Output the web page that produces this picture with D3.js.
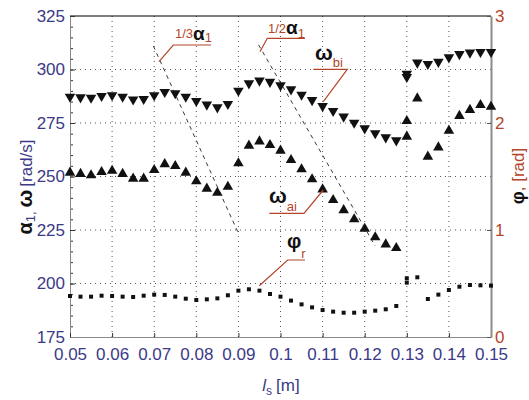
<!DOCTYPE html>
<html>
<head>
<meta charset="utf-8">
<script src="https://cdn.jsdelivr.net/npm/d3@7"></script>
<style>
  body { margin: 0; background: #fff; }
  text { font-family: "Liberation Sans", Arial, Helvetica, sans-serif; }
</style>
</head>
<body>
<svg id="chart" width="529" height="400"></svg>
<script>
// shaft length l_s [m]; 0.13 appears twice (two runs at the jump)
const ls = [0.05, 0.0525, 0.055, 0.0575, 0.06, 0.0625, 0.065, 0.0675, 0.07, 0.0725,
  0.075, 0.0775, 0.08, 0.0825, 0.085, 0.0875, 0.09, 0.0925, 0.095, 0.0975,
  0.1, 0.1025, 0.105, 0.1075, 0.11, 0.1125, 0.115, 0.1175, 0.12, 0.1225,
  0.125, 0.1275, 0.13, 0.13, 0.1325, 0.135, 0.1375, 0.14, 0.1425, 0.145, 0.1475, 0.15];

// omega_bi [rad/s] (down triangles)
const omegaBi = [287.3, 287, 286.8, 287.6, 288, 287.3, 286, 286.2, 288, 289.5,
  288.9, 287.3, 285.3, 283.6, 282.3, 283.9, 290.1, 293.5, 294.8, 294.2,
  292.6, 290.7, 288.2, 285.7, 282.9, 280.6, 278, 275.1, 272.5, 270.2,
  268.3, 266.9, 298, 296.5, 303.2, 302.6, 303.6, 305.7, 307.2, 307.9, 308.2, 308.2];

// omega_ai [rad/s] (up triangles)
const omegaAi = [251.8, 251.2, 250.6, 252.1, 252.7, 251.2, 249, 249, 253, 255.8,
  254.9, 251.8, 247.8, 244.3, 242.4, 245.2, 256.2, 264.4, 266.4, 264.7,
  262.1, 257.7, 253.4, 248.7, 244, 239, 234.3, 230, 225.6, 221.6,
  218.3, 216.6, 268.6, 275.9, 286.5, 259.3, 263.6, 271.4, 278.3, 281.1, 283.4, 282.6];

// phi_r [rad] (right axis, small squares)
const phiR = [0.383, 0.377, 0.377, 0.386, 0.383, 0.377, 0.374, 0.386, 0.396, 0.393,
  0.377, 0.358, 0.346, 0.352, 0.361, 0.39, 0.433, 0.446, 0.433, 0.402,
  0.377, 0.34, 0.305, 0.277, 0.252, 0.237, 0.227, 0.227, 0.237, 0.246,
  0.259, 0.29, 0.508, 0.549, 0.558, 0.355, 0.396, 0.439, 0.47, 0.486, 0.483, 0.48];

// dashed reference lines 1/3 a1 and 1/2 a1
const thirdLs = [0.0698, 0.09];
const thirdVal = [311, 223.5];
const halfLs = [0.0948, 0.1225];
const halfVal = [311.5, 217.5];

const xTicks = [0.05, 0.06, 0.07, 0.08, 0.09, 0.1, 0.11, 0.12, 0.13, 0.14, 0.15];
const xTickLabels = ["0.05", "0.06", "0.07", "0.08", "0.09", "0.1", "0.11", "0.12", "0.13", "0.14", "0.15"];
const leftTicks = [175, 200, 225, 250, 275, 300, 325];
const leftMinor = d3.range(175, 326, 5);
const rightTicks = [0, 1, 2, 3];

const blue = "#3b3a86";
const red = "#b4452a";

const svg = d3.select("#chart");
const pL = 70, pR = 491, pT = 16, pB = 337;

const x = d3.scaleLinear().domain([0.05, 0.15]).range([pL, pR]);
const yL = d3.scaleLinear().domain([175, 325]).range([pB, pT]);
const yR = d3.scaleLinear().domain([0, 3]).range([pB, pT]);

// grid
const grid = svg.append("g")
  .attr("stroke", "#555")
  .attr("stroke-width", 1)
  .attr("stroke-dasharray", "1,4");
grid.selectAll("line.v")
  .data(xTicks.slice(1, -1))
  .join("line")
  .attr("class", "v")
  .attr("x1", d => x(d)).attr("x2", d => x(d))
  .attr("y1", pT).attr("y2", pB);
grid.selectAll("line.h")
  .data(leftTicks.slice(1, -1))
  .join("line")
  .attr("class", "h")
  .attr("x1", pL).attr("x2", pR)
  .attr("y1", d => yL(d)).attr("y2", d => yL(d));

// top frame
svg.append("line")
  .attr("x1", pL).attr("x2", pR)
  .attr("y1", pT).attr("y2", pT)
  .attr("stroke", "#000");

// left axis
svg.append("g")
  .attr("transform", `translate(${pL},0)`)
  .call(d3.axisLeft(yL).tickValues(leftMinor).tickSize(-3).tickFormat(""))
  .call(g => g.select(".domain").remove())
  .call(g => g.selectAll("line").attr("stroke", "#333"));

const axL = svg.append("g")
  .attr("transform", `translate(${pL},0)`)
  .call(d3.axisLeft(yL).tickValues(leftTicks).tickSize(-5).tickPadding(5).tickSizeOuter(0));
axL.select(".domain").attr("stroke", "#888");
axL.selectAll("line").attr("stroke", "#333");
axL.selectAll("text").attr("fill", blue).style("font-size", "17px");

// bottom axis
const axB = svg.append("g")
  .attr("transform", `translate(0,${pB})`)
  .call(d3.axisBottom(x).tickValues(xTicks).tickSize(-4).tickPadding(11).tickSizeOuter(0)
    .tickFormat((d, i) => xTickLabels[i]));
axB.select(".domain").attr("stroke", "#888");
axB.selectAll("line").attr("stroke", "#333");
axB.selectAll("text").attr("fill", blue).style("font-size", "17px");

// right axis
const axR = svg.append("g")
  .attr("transform", `translate(${pR},0)`)
  .call(d3.axisRight(yR).tickValues(rightTicks).tickSize(-4).tickPadding(4).tickSizeOuter(0)
    .tickFormat(d3.format("d")));
axR.select(".domain").attr("stroke", "#8c8c8c").attr("stroke-width", 2);
axR.selectAll("line").attr("stroke", "#555");
axR.selectAll("text").attr("fill", red).style("font-size", "17px");

// dashed reference lines
const refLine = d3.line().x(d => x(d[0])).y(d => yL(d[1]));
[[thirdLs, thirdVal], [halfLs, halfVal]].forEach(([xs, vs]) => {
  svg.append("path")
    .attr("d", refLine(xs.map((v, i) => [v, vs[i]])))
    .attr("fill", "none")
    .attr("stroke", "#222")
    .attr("stroke-width", 0.9)
    .attr("stroke-dasharray", "4,4");
});

// markers
const triUp = d3.symbol().type(d3.symbolTriangle).size(48);
const sq = d3.symbol().type(d3.symbolSquare).size(16);

svg.append("g").selectAll("path")
  .data(ls.map((v, i) => [v, omegaBi[i]]))
  .join("path")
  .attr("d", triUp)
  .attr("transform", d => `translate(${x(d[0])},${yL(d[1])}) rotate(180)`)
  .attr("fill", "#111");

svg.append("g").selectAll("path")
  .data(ls.map((v, i) => [v, omegaAi[i]]))
  .join("path")
  .attr("d", triUp)
  .attr("transform", d => `translate(${x(d[0])},${yL(d[1])})`)
  .attr("fill", "#111");

svg.append("g").selectAll("path")
  .data(ls.map((v, i) => [v, phiR[i]]))
  .join("path")
  .attr("d", sq)
  .attr("transform", d => `translate(${x(d[0])},${yR(d[1])})`)
  .attr("fill", "#111");

// annotations (leader lines + labels)
const leaders = [
  [[159, 61.7], [173.3, 45], [211, 45]],
  [[260, 51.7], [267.3, 38.3], [305, 38.3]],
  [[313.3, 69.3], [347.3, 69.3], [323.3, 101.7]],
  [[269.3, 213.3], [304, 213.3], [323.3, 190]],
  [[259.3, 285.7], [287.7, 260], [305, 260]]
];
svg.append("g").selectAll("path")
  .data(leaders)
  .join("path")
  .attr("d", d3.line())
  .attr("fill", "none")
  .attr("stroke", red)
  .attr("stroke-width", 1.2);

function label(px, py, parts) {
  const t = svg.append("text").attr("x", px).attr("y", py);
  parts.forEach(p => {
    t.append("tspan")
      .attr("dy", p.dy || 0)
      .attr("dx", p.dx || 0)
      .attr("fill", p.fill)
      .style("font-size", p.size + "px")
      .style("font-weight", p.bold ? "bold" : "normal")
      .style("font-style", p.italic ? "italic" : "normal")
      .text(p.t);
  });
  return t;
}

label(175, 38, [
  { t: "1/3", fill: red, size: 13 },
  { t: "α", fill: "#111", size: 19, bold: true, dy: 2 },
  { t: "1", fill: red, size: 13, dy: 2 }
]);
label(268, 33.3, [
  { t: "1/2", fill: red, size: 13 },
  { t: "α", fill: "#111", size: 19, bold: true, dy: 1 },
  { t: "1", fill: red, size: 13, dy: 3.4 }
]);
label(315, 60, [
  { t: "ω", fill: "#111", size: 21, bold: true },
  { t: "bi", fill: red, size: 13, dy: 7 }
]);
label(269, 203, [
  { t: "ω", fill: "#111", size: 21, bold: true },
  { t: "ai", fill: red, size: 13, dy: 8 }
]);
label(287, 248, [
  { t: "φ", fill: "#111", size: 20, bold: true },
  { t: "r", fill: red, size: 13, dy: 10 }
]);

// axis titles
const yLab = svg.append("text")
  .attr("transform", "translate(32,187) rotate(-90)")
  .attr("text-anchor", "middle");
yLab.append("tspan").attr("fill", "#111").style("font-size", "20px").style("font-weight", "bold").text("α");
yLab.append("tspan").attr("fill", blue).style("font-size", "13px").attr("dy", 3).text("1,");
yLab.append("tspan").attr("fill", "#111").style("font-size", "21px").style("font-weight", "bold").attr("dy", -3).attr("dx", 4).text("ω");
yLab.append("tspan").attr("fill", blue).style("font-size", "17px").attr("dx", 3).text("[rad/s]");

const rLab = svg.append("text")
  .attr("transform", "translate(524,176) rotate(-90)")
  .attr("text-anchor", "middle");
rLab.append("tspan").attr("fill", "#111").style("font-size", "18px").style("font-weight", "bold").text("φ");
rLab.append("tspan").attr("fill", red).style("font-size", "17px").text(", [rad]");

const xLab = svg.append("text")
  .attr("x", 281).attr("y", 391)
  .attr("text-anchor", "middle")
  .attr("fill", blue);
xLab.append("tspan").style("font-size", "17px").style("font-style", "italic").text("l");
xLab.append("tspan").style("font-size", "12px").attr("dy", 4).text("s");
xLab.append("tspan").style("font-size", "17px").attr("dy", -4).attr("dx", 4).text("[m]");
</script>
</body>
</html>
